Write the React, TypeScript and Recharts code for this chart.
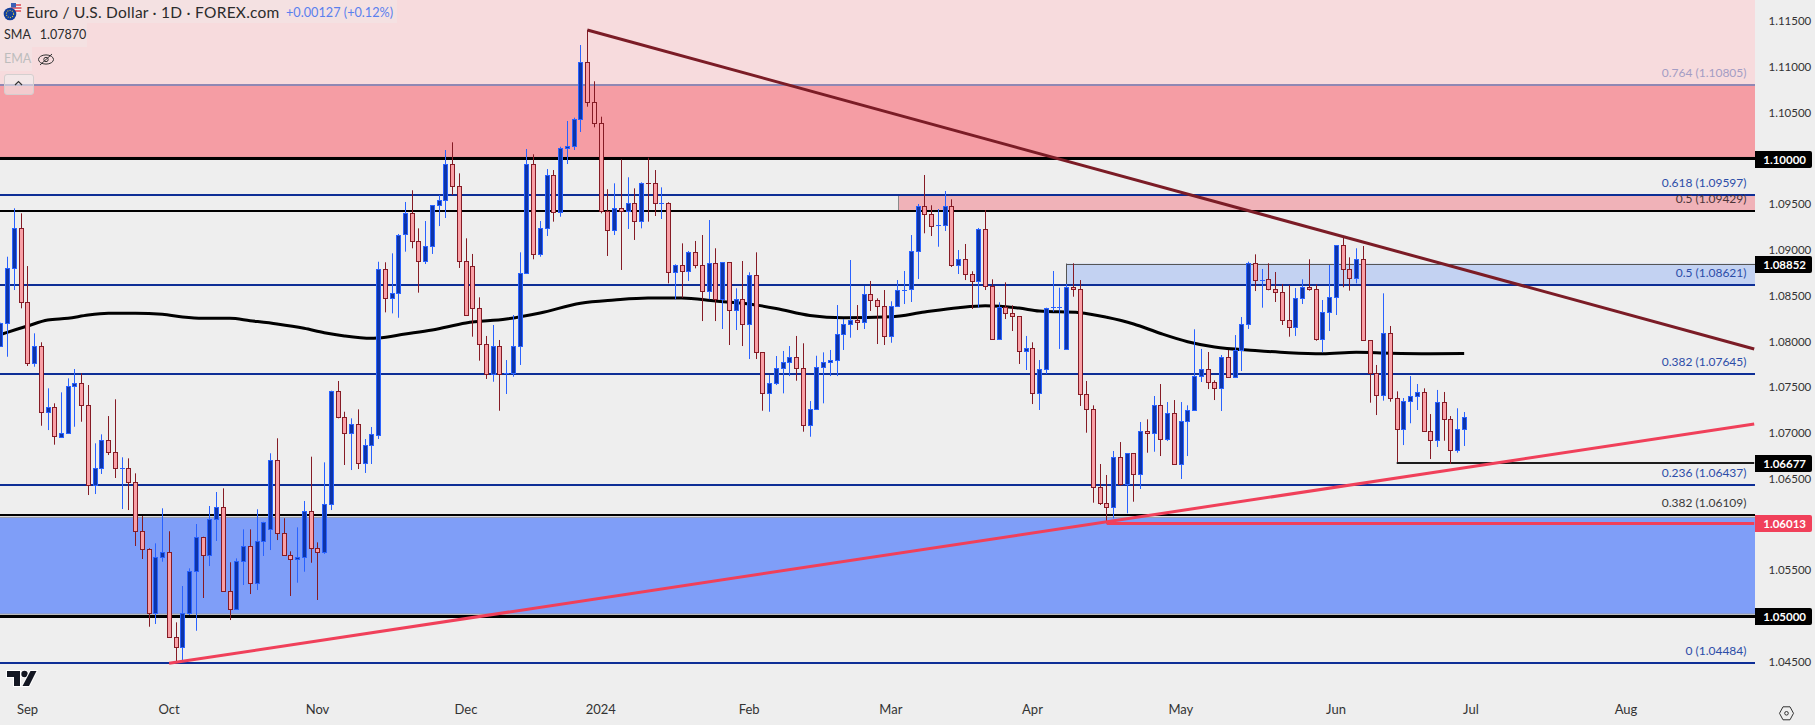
import { ComposedChart, Bar, Line, XAxis, YAxis, ReferenceLine, ReferenceArea } from "recharts";

const FONT = "Lato, 'Noto Sans', sans-serif";
const BAND = 6.745;

const sessionMonths: [string, number[]][] = [
  ["2023-08", [28, 29, 30, 31]],
  ["2023-09", [1, 4, 5, 6, 7, 8, 11, 12, 13, 14, 15, 18, 19, 20, 21, 22, 25, 26, 27, 28, 29]],
  ["2023-10", [2, 3, 4, 5, 6, 9, 10, 11, 12, 13, 16, 17, 18, 19, 20, 23, 24, 25, 26, 27, 30, 31]],
  ["2023-11", [1, 2, 3, 6, 7, 8, 9, 10, 13, 14, 15, 16, 17, 20, 21, 22, 23, 24, 27, 28, 29, 30]],
  ["2023-12", [1, 4, 5, 6, 7, 8, 11, 12, 13, 14, 15, 18, 19, 20, 21, 22, 26, 27, 28, 29]],
  ["2024-01", [2, 3, 4, 5, 8, 9, 10, 11, 12, 15, 16, 17, 18, 19, 22, 23, 24, 25, 26, 29, 30, 31]],
  ["2024-02", [1, 2, 5, 6, 7, 8, 9, 12, 13, 14, 15, 16, 19, 20, 21, 22, 23, 26, 27, 28, 29]],
  ["2024-03", [1, 4, 5, 6, 7, 8, 11, 12, 13, 14, 15, 18, 19, 20, 21, 22, 25, 26, 27, 28, 29]],
  ["2024-04", [1, 2, 3, 4, 5, 8, 9, 10, 11, 12, 15, 16, 17, 18, 19, 22, 23, 24, 25, 26, 29, 30]],
  ["2024-05", [1, 2, 3, 6, 7, 8, 9, 10, 13, 14, 15, 16, 17, 20, 21, 22, 23, 24, 27, 28, 29, 30, 31]],
  ["2024-06", [3, 4, 5, 6, 7, 10, 11, 12, 13, 14, 17, 18, 19, 20, 21, 24, 25, 26, 27, 28]],
  ["2024-07", [1, 2, 3, 4, 5, 8, 9, 10, 11, 12, 15, 16, 17, 18, 19, 22, 23, 24, 25, 26, 29, 30, 31]],
  ["2024-08", [1, 2, 5, 6, 7, 8, 9, 12, 13, 14, 15, 16, 19, 20, 21, 22, 23, 26, 27, 28]],
];

const monthTicks = ["2023-09-01", "2023-10-02", "2023-11-01", "2023-12-01", "2024-01-02", "2024-02-01", "2024-03-01", "2024-04-01", "2024-05-01", "2024-06-03", "2024-07-01", "2024-08-01"];
const monthLabels = ["Sep", "Oct", "Nov", "Dec", "2024", "Feb", "Mar", "Apr", "May", "Jun", "Jul", "Aug"];
const priceTicks = [1.115, 1.11, 1.105, 1.095, 1.09, 1.085, 1.08, 1.075, 1.07, 1.065, 1.055, 1.045];

const opens = [
  1.07955, 1.08199, 1.088, 1.09237, 1.08435, 1.07762, 1.07955, 1.07227, 1.07281, 1.0696,
  1.06997, 1.07511, 1.07544, 1.07303, 1.06429, 1.06615, 1.06921, 1.06796, 1.06615, 1.06615,
  1.06462, 1.05933, 1.0573, 1.05031, 1.05649, 1.05704, 1.04775, 1.04666, 1.05037, 1.05496,
  1.05867, 1.05671, 1.06058, 1.06195, 1.05277, 1.05081, 1.05605, 1.05769, 1.05365, 1.05824,
  1.05948, 1.06702, 1.05905, 1.05664, 1.05627, 1.05649, 1.06152, 1.05747, 1.05704, 1.06222,
  1.07463, 1.07179, 1.07004, 1.07096, 1.06676, 1.06866, 1.06982, 1.08789, 1.08479, 1.08527,
  1.09172, 1.09401, 1.09102, 1.08883, 1.09047, 1.09489, 1.09543, 1.09937, 1.09696, 1.08883,
  1.08829, 1.08363, 1.0797, 1.07642, 1.07948, 1.07653, 1.07653, 1.07948, 1.08746, 1.09937,
  1.08953, 1.09237, 1.09816, 1.09412, 1.10112, 1.10133, 1.10428, 1.11051, 1.10614, 1.10385,
  1.09423, 1.09216, 1.09456, 1.09423, 1.09511, 1.09314, 1.09729, 1.09729, 1.09511, 1.09511,
  1.08757, 1.08833, 1.08768, 1.08975, 1.08833, 1.08549, 1.08855, 1.08462, 1.08866, 1.08341,
  1.08462, 1.08188, 1.08724, 1.07882, 1.07434, 1.07544, 1.07714, 1.07773, 1.07834, 1.07714,
  1.07085, 1.07266, 1.07725, 1.07773, 1.07795, 1.08079, 1.08188, 1.08232, 1.0821, 1.08516,
  1.08451, 1.08385, 1.08057, 1.08385, 1.08566, 1.08571, 1.08986, 1.09478, 1.0939, 1.0927,
  1.0927, 1.09478, 1.08833, 1.08899, 1.08735, 1.08658, 1.09226, 1.08604, 1.08024, 1.08374,
  1.08309, 1.08276, 1.07893, 1.07926, 1.07434, 1.07697, 1.08374, 1.08374, 1.07915, 1.08593,
  1.08571, 1.07423, 1.07259, 1.06414, 1.06239, 1.06189, 1.06735, 1.0644, 1.06779, 1.06549,
  1.07019, 1.06997, 1.07303, 1.06932, 1.07216, 1.06659, 1.07128, 1.07249, 1.0762, 1.07697,
  1.07555, 1.07489, 1.07828, 1.07609, 1.07904, 1.08188, 1.08855, 1.08672, 1.0868, 1.08571,
  1.08538, 1.08232, 1.08156, 1.08472, 1.08593, 1.08571, 1.08024, 1.08319, 1.08483, 1.09052,
  1.08789, 1.08691, 1.08899, 1.08014, 1.07653, 1.07413, 1.0809, 1.0738, 1.07041, 1.07347,
  1.07402, 1.07445, 1.07019, 1.06921, 1.07336, 1.0715, 1.06812, 1.07041,
];

const closes = [
  1.08206, 1.088, 1.09237, 1.08435, 1.07762, 1.07955, 1.07227, 1.07281, 1.06965, 1.06997,
  1.07511, 1.07544, 1.07303, 1.06429, 1.06615, 1.06921, 1.06796, 1.06615, 1.06615, 1.06462,
  1.05933, 1.0573, 1.05031, 1.05649, 1.05704, 1.04775, 1.04666, 1.05037, 1.05496, 1.05867,
  1.05671, 1.06058, 1.06195, 1.05277, 1.05081, 1.05605, 1.05769, 1.05365, 1.05824, 1.06031,
  1.06702, 1.05905, 1.05664, 1.05627, 1.05649, 1.06152, 1.05747, 1.05704, 1.06222, 1.07463,
  1.07179, 1.07004, 1.07096, 1.06676, 1.06866, 1.06986, 1.08789, 1.08479, 1.08527, 1.09161,
  1.09401, 1.09102, 1.08883, 1.09047, 1.09489, 1.09543, 1.09937, 1.09696, 1.08883, 1.08287,
  1.08363, 1.0797, 1.07642, 1.07948, 1.07642, 1.07653, 1.07948, 1.08746, 1.09937, 1.08953,
  1.09237, 1.09816, 1.09412, 1.10112, 1.10133, 1.10428, 1.11051, 1.10614, 1.10385, 1.09423,
  1.09216, 1.09456, 1.09423, 1.09511, 1.09314, 1.09729, 1.09728, 1.09511, 1.09511, 1.08757,
  1.08833, 1.08768, 1.08975, 1.08833, 1.08549, 1.08855, 1.08462, 1.08866, 1.08341, 1.08462,
  1.08188, 1.08724, 1.07882, 1.07434, 1.07544, 1.07714, 1.07773, 1.07834, 1.07714, 1.07085,
  1.07266, 1.07725, 1.07773, 1.07795, 1.08079, 1.08188, 1.08232, 1.0821, 1.08516, 1.08451,
  1.08385, 1.08057, 1.08385, 1.0856, 1.08566, 1.08986, 1.09478, 1.0939, 1.09259, 1.0927,
  1.09478, 1.08833, 1.08899, 1.08735, 1.08658, 1.09226, 1.08604, 1.08024, 1.08374, 1.08309,
  1.08276, 1.07893, 1.07926, 1.07434, 1.07697, 1.08363, 1.08374, 1.08374, 1.08593, 1.08571,
  1.07423, 1.07259, 1.06414, 1.06239, 1.06189, 1.06735, 1.0644, 1.06779, 1.06549, 1.07019,
  1.06997, 1.07303, 1.06932, 1.07216, 1.06659, 1.07128, 1.07249, 1.0762, 1.07697, 1.07555,
  1.07489, 1.07828, 1.07609, 1.07904, 1.08188, 1.08855, 1.08669, 1.08672, 1.08571, 1.08538,
  1.08232, 1.08156, 1.08472, 1.08593, 1.08571, 1.08024, 1.08319, 1.08483, 1.09052, 1.08789,
  1.08691, 1.08899, 1.08014, 1.07653, 1.07413, 1.0809, 1.0738, 1.07041, 1.07347, 1.07402,
  1.07445, 1.07019, 1.06921, 1.07336, 1.0715, 1.06812, 1.07041, 1.07172,
];

const highs = [
  1.08206, 1.08927, 1.09456, 1.09401, 1.08825, 1.0809, 1.07992, 1.07489, 1.07325, 1.07445,
  1.07598, 1.077, 1.07653, 1.07525, 1.06888, 1.06986, 1.07186, 1.07369, 1.06735, 1.06724,
  1.0656, 1.06094, 1.05741, 1.05795, 1.06178, 1.05927, 1.04932, 1.05329, 1.05522, 1.06006,
  1.05867, 1.06203, 1.06356, 1.06396, 1.05588, 1.05631, 1.05948, 1.05948, 1.06167, 1.06031,
  1.06779, 1.06943, 1.06069, 1.05708, 1.0597, 1.06258, 1.06742, 1.05806, 1.0668, 1.07463,
  1.07569, 1.07233, 1.07161, 1.07259, 1.06935, 1.07066, 1.08872, 1.08866, 1.08964, 1.09175,
  1.09525, 1.09653, 1.09237, 1.09317, 1.09489, 1.09601, 1.10093, 1.10177, 1.09838, 1.09128,
  1.08957, 1.08483, 1.08061, 1.08181, 1.08017, 1.07798, 1.0829, 1.08975, 1.10104, 1.10046,
  1.09317, 1.09885, 1.09874, 1.10129, 1.1041, 1.10446, 1.1124, 1.11404, 1.10844, 1.10457,
  1.09664, 1.09729, 1.09991, 1.09795, 1.09674, 1.0974, 1.10009, 1.09874, 1.09685, 1.09522,
  1.08844, 1.09073, 1.08989, 1.09099, 1.09164, 1.09328, 1.09019, 1.08866, 1.08866, 1.08582,
  1.0888, 1.08757, 1.08975, 1.07882, 1.07634, 1.07842, 1.07897, 1.07951, 1.08061, 1.07981,
  1.0735, 1.07845, 1.07882, 1.07908, 1.08399, 1.08246, 1.08891, 1.08399, 1.08607, 1.08662,
  1.08472, 1.08563, 1.0844, 1.08672, 1.08771, 1.09164, 1.09503, 1.0982, 1.09489, 1.09448,
  1.09645, 1.09554, 1.09, 1.09066, 1.08768, 1.09241, 1.09437, 1.0868, 1.08429, 1.08647,
  1.08396, 1.08276, 1.08061, 1.07992, 1.07798, 1.0837, 1.08771, 1.08588, 1.08629, 1.08855,
  1.08672, 1.07569, 1.07303, 1.06662, 1.06542, 1.06804, 1.06902, 1.06779, 1.06779, 1.07121,
  1.0715, 1.07405, 1.07536, 1.07339, 1.07361, 1.07339, 1.07303, 1.08134, 1.07919, 1.07886,
  1.07576, 1.07853, 1.07908, 1.08071, 1.08268, 1.08872, 1.08953, 1.08793, 1.08855, 1.0876,
  1.08629, 1.08618, 1.08585, 1.0868, 1.08899, 1.08625, 1.08454, 1.08836, 1.09052, 1.09146,
  1.0892, 1.09019, 1.09044, 1.08014, 1.07744, 1.08527, 1.0817, 1.07456, 1.07383, 1.07623,
  1.07536, 1.07489, 1.07208, 1.07471, 1.07449, 1.07186, 1.07271, 1.0723,
];

const lows = [
  1.07955, 1.07834, 1.08563, 1.08363, 1.07733, 1.07725, 1.0708, 1.07033, 1.06873, 1.06949,
  1.06997, 1.07069, 1.07124, 1.06323, 1.06334, 1.06553, 1.0676, 1.06509, 1.0617, 1.06159,
  1.05766, 1.05624, 1.04884, 1.04914, 1.05594, 1.04775, 1.04484, 1.0452, 1.05012, 1.0484,
  1.05198, 1.05547, 1.05821, 1.05267, 1.04957, 1.05081, 1.0534, 1.05241, 1.05285, 1.05657,
  1.05722, 1.05831, 1.05664, 1.0522, 1.05365, 1.05485, 1.05583, 1.05176, 1.05679, 1.06159,
  1.07161, 1.06651, 1.06596, 1.06607, 1.06564, 1.06662, 1.06935, 1.08319, 1.08308, 1.0826,
  1.08982, 1.09019, 1.08534, 1.08847, 1.08957, 1.09262, 1.0935, 1.09601, 1.08804, 1.08287,
  1.08053, 1.07791, 1.07591, 1.07561, 1.07244, 1.07427, 1.07616, 1.07744, 1.08746, 1.08899,
  1.08927, 1.09153, 1.0931, 1.09364, 1.0994, 1.10093, 1.1029, 1.10566, 1.10341, 1.09401,
  1.08935, 1.09164, 1.08782, 1.0923, 1.0911, 1.09237, 1.0931, 1.09372, 1.09339, 1.08636,
  1.08462, 1.08479, 1.08662, 1.088, 1.08224, 1.08462, 1.08224, 1.08137, 1.07962, 1.08126,
  1.07951, 1.07809, 1.07809, 1.07244, 1.07233, 1.07525, 1.07434, 1.07623, 1.07572, 1.07015,
  1.0696, 1.07252, 1.07325, 1.07623, 1.07623, 1.07908, 1.08042, 1.08126, 1.08137, 1.08334,
  1.07973, 1.07962, 1.07987, 1.08385, 1.0841, 1.08432, 1.08683, 1.09183, 1.09153, 1.09036,
  1.09208, 1.08815, 1.08738, 1.08672, 1.08356, 1.0837, 1.08563, 1.08024, 1.08024, 1.08246,
  1.08115, 1.07755, 1.07689, 1.07317, 1.07252, 1.07645, 1.08326, 1.07919, 1.07915, 1.0849,
  1.07296, 1.07004, 1.06239, 1.06214, 1.06014, 1.06069, 1.06425, 1.06123, 1.0625, 1.06389,
  1.06785, 1.06796, 1.06749, 1.06913, 1.06659, 1.06498, 1.06749, 1.07249, 1.07558, 1.07481,
  1.07361, 1.07241, 1.07609, 1.07609, 1.07678, 1.08137, 1.08552, 1.0837, 1.0856, 1.08432,
  1.08181, 1.08053, 1.08061, 1.0841, 1.08556, 1.08009, 1.07882, 1.08115, 1.0829, 1.08593,
  1.08556, 1.08636, 1.08014, 1.07332, 1.07197, 1.07354, 1.07343, 1.06684, 1.06869, 1.07107,
  1.07252, 1.07019, 1.06716, 1.06848, 1.06916, 1.06662, 1.06785, 1.06859,
];

const smaSessions = [0, 1, 4, 7, 10, 13, 16, 20, 24, 27, 30, 34, 37, 41, 45, 48, 51, 55, 56, 60, 64, 69, 75, 80, 86, 91, 96, 101, 106, 111, 115, 120, 125, 132, 137, 142, 146, 151, 154, 160, 164, 168, 172, 176, 180, 186, 191, 196, 201, 206, 212, 217];
const smaValues = [1.08077, 1.08101, 1.0817, 1.08235, 1.08254, 1.0829, 1.08308, 1.08308, 1.08298, 1.08268, 1.08254, 1.08254, 1.08228, 1.08192, 1.08145, 1.08097, 1.08061, 1.08035, 1.08039, 1.08082, 1.08126, 1.08203, 1.08246, 1.08312, 1.08418, 1.08454, 1.08476, 1.08476, 1.08443, 1.0841, 1.08361, 1.08285, 1.0826, 1.0827, 1.08323, 1.0837, 1.08392, 1.08366, 1.08334, 1.08315, 1.08265, 1.08192, 1.08088, 1.07998, 1.0794, 1.07902, 1.07878, 1.07867, 1.07882, 1.07872, 1.07867, 1.0787];

const fibPrices = [1.10805, 1.09597, 1.09429, 1.08621, 1.07645, 1.06437, 1.06109, 1.04484];
const fibLabels = ["0.764 (1.10805)", "0.618 (1.09597)", "0.5 (1.09429)", "0.5 (1.08621)", "0.382 (1.07645)", "0.236 (1.06437)", "0.382 (1.06109)", "0 (1.04484)"];
const fibColors = ["#8f88b4", "#0d2e96", "#000000", "#0d2e96", "#0d2e96", "#0d2e96", "#000000", "#0d2e96"];
const fibTextColors = ["#a49dc4", "#2c4da8", "#4a3438", "#2c4da8", "#2c4da8", "#2c4da8", "#3a3a3a", "#2c4da8"];

const dates = sessionMonths.flatMap(([month, days]) => days.map((d) => `${month}-${String(d).padStart(2, "0")}`));

const rows = dates.map((date, i) => {
  const smaAt = smaSessions.indexOf(i);
  return {
    date,
    open: opens[i],
    close: closes[i],
    high: highs[i],
    low: lows[i],
    range: highs[i] === undefined ? null : [lows[i], highs[i]],
    sma: smaAt >= 0 ? smaValues[smaAt] : null,
  };
});

function Candle(props: any) {
  const { x, width, y, height, payload } = props;
  if (!payload || payload.high === undefined || !height) return null;
  const perPrice = height / (payload.high - payload.low);
  const up = payload.close >= payload.open;
  const cx = Math.round(x + width / 2) + 0.5;
  const top = Math.round(y + (payload.high - Math.max(payload.open, payload.close)) * perPrice) + 0.5;
  const bottom = Math.round(y + (payload.high - Math.min(payload.open, payload.close)) * perPrice) + 0.5;
  const edge = up ? "#2962ff" : "#851b25";
  const fill = up ? "#0d34a8" : "#f9a0a6";
  return (
    <g>
      <line x1={cx} x2={cx} y1={y} y2={y + height} stroke={edge} strokeWidth={1} />
      {bottom - top < 1 ? (
        <line x1={cx - 2.5} x2={cx + 2.5} y1={top} y2={top} stroke={edge} strokeWidth={1} />
      ) : (
        <rect x={cx - 2} y={top} width={4} height={bottom - top} fill={fill} stroke={edge} strokeWidth={1} />
      )}
    </g>
  );
}

// zones drawn on the chart start at a candle's centre, not at its band edge
function Zone(props: any) {
  const { x, y, width, height, fill, stroke, clipPath, topEdge } = props;
  const left = Math.round(x + BAND / 2) + 0.5;
  const right = x + width;
  const yTop = Math.round(y) + 0.5;
  const yBottom = y + height;
  return (
    <g clipPath={clipPath}>
      <rect x={left} y={y} width={right - left} height={height} fill={fill} />
      <line x1={left} x2={left} y1={y} y2={yBottom} stroke={stroke} strokeWidth={1} />
      {topEdge && <line x1={left} x2={right} y1={yTop} y2={yTop} stroke={stroke} strokeWidth={1} />}
    </g>
  );
}

// level lines snap to whole pixels so they stay as dark as the original
function Level(props: any) {
  const { x1, x2, y1, stroke, strokeWidth } = props;
  const y = strokeWidth % 2 ? Math.floor(y1) + 0.5 : Math.round(y1);
  return <line x1={x1} x2={x2} y1={y} y2={y} stroke={stroke} strokeWidth={strokeWidth} />;
}

const fibLabel = (text: string, color: string) => (props: any) => {
  const box = props.viewBox;
  return (
    <text x={1746.5} y={box.y - 12.5} textAnchor="end" dominantBaseline="central" fill={color} fontFamily={FONT} fontSize={12}>
      {text}
    </text>
  );
};

const badge = (text: string, fill: string) => (props: any) => {
  const box = props.viewBox;
  const top = Math.round(box.y) - 8;
  return (
    <g>
      <path d={`M1755 ${top}h55a2 2 0 0 1 2 2v13a2 2 0 0 1 -2 2h-55z`} fill={fill} />
      <text x={1806} y={top + 8.5} textAnchor="end" dominantBaseline="central" fill="#fff" fontFamily={FONT} fontWeight={700} fontSize={11.5}>
        {text}
      </text>
    </g>
  );
};

function Overlay() {
  return (
    <>
      <div style={{ position: "absolute", left: 0, top: 0, width: 397, height: 23, background: "rgba(240,240,240,0.3)" }} />
      <div style={{ position: "absolute", left: 0, top: 23, width: 87, height: 24, background: "rgba(240,240,240,0.3)" }} />
      <div style={{ position: "absolute", left: 0, top: 47, width: 32, height: 24, background: "rgba(240,240,240,0.3)" }} />
      <div style={{ position: "absolute", left: 26, top: 3, fontFamily: FONT, fontSize: 15.5, letterSpacing: 0.25, color: "#2b2b2b", whiteSpace: "nowrap", lineHeight: "18px" }}>
        Euro / U.S. Dollar · 1D · FOREX.com
      </div>
      <div style={{ position: "absolute", left: 286, top: 3, fontFamily: FONT, fontSize: 12.7, color: "#5a80ee", whiteSpace: "nowrap", lineHeight: "18px" }}>
        +0.00127 (+0.12%)
      </div>
      <div style={{ position: "absolute", left: 4, top: 27, fontFamily: FONT, fontSize: 12.5, color: "#2b2b2b", lineHeight: "16px", whiteSpace: "nowrap" }}>
        SMA<span style={{ marginLeft: 9 }}>1.07870</span>
      </div>
      <div style={{ position: "absolute", left: 4, top: 51, fontFamily: FONT, fontSize: 12.5, color: "#bdbdbd", lineHeight: "16px" }}>EMA</div>
      <div style={{ position: "absolute", left: 4, top: 74, width: 28, height: 19, border: "1px solid #d4cfcf", borderRadius: 3, background: "rgba(240,240,240,0.55)" }} />
      <svg width={1815} height={725} style={{ position: "absolute", left: 0, top: 0, pointerEvents: "none" }}>
        {/* symbol flags */}
        <circle cx={16} cy={8} r={5.8} fill="#f3f3f3" />
        <path d="M11 5h10M10.5 8h11M11 11h10" stroke="#e04550" strokeWidth={1.4} />
        <rect x={11} y={3} width={5} height={4.5} fill="#3c5fb5" />
        <circle cx={10} cy={14} r={6.3} fill="#123f9c" />
        <circle cx={10} cy={14} r={3.6} fill="none" stroke="#e8c92e" strokeWidth={1.1} strokeDasharray="1 1.3" />
        {/* chevron and hidden eye */}
        <path d="M15 85l3.5-3.5 3.5 3.5" fill="none" stroke="#333" strokeWidth={1.2} />
        <ellipse cx={46} cy={59.5} rx={7.5} ry={4.6} fill="none" stroke="#333" strokeWidth={1} />
        <circle cx={46} cy={59.5} r={2.2} fill="none" stroke="#333" strokeWidth={1} />
        <path d="M40 65l12-11" stroke="#333" strokeWidth={1} />
        {/* TradingView mark */}
        <g stroke="#fff" strokeWidth={2} paintOrder="stroke">
          <path d="M7 671h13v15h-6v-9H7z" fill="#131722" />
          <circle cx={24.5} cy={674} r={3.2} fill="#131722" />
          <path d="M30.5 671h6l-7.5 15h-6.5z" fill="#131722" />
        </g>
        {/* settings gear */}
        <path d="M1779.5 713.3l3.5-6.5h7l3.5 6.5-3.5 6.5h-7z" fill="none" stroke="#333" strokeWidth={1} />
        <circle cx={1786.5} cy={713.3} r={1.8} fill="none" stroke="#333" strokeWidth={1} />
      </svg>
    </>
  );
}

export default function App() {
  return (
    <div style={{ position: "absolute", left: 0, top: 0, width: 1815, height: 725, background: "#eeeeee", overflow: "hidden" }}>
      <ComposedChart width={1815} height={725} data={rows} margin={{ top: 0, right: 0, bottom: 0, left: 0 }}>
        <XAxis
          dataKey="date"
          ticks={monthTicks}
          interval={0}
          height={30}
          padding={{ left: -2.87, right: -2.58 }}
          axisLine={false}
          tickLine={false}
          tickMargin={4}
          tick={{ fill: "#333", fontSize: 13, fontFamily: FONT }}
          tickFormatter={(d: string) => monthLabels[monthTicks.indexOf(d)]}
        />
        <YAxis
          orientation="right"
          width={60}
          type="number"
          domain={[1.04138, 1.11732]}
          allowDataOverflow
          ticks={priceTicks}
          interval={0}
          axisLine={false}
          tickLine={false}
          tickMargin={7.5}
          tick={{ fill: "#333", fontSize: 11.5, fontFamily: FONT }}
          tickFormatter={(v: number) => v.toFixed(5)}
        />

        <ReferenceArea y1={1.11732} y2={1.10805} fill="#f7dbdd" fillOpacity={1} stroke="none" ifOverflow="hidden" zIndex={100} />
        <ReferenceArea y1={1.10805} y2={1.10012} fill="#f59da4" fillOpacity={1} stroke="#8a7070" ifOverflow="hidden" zIndex={100} />
        <ReferenceArea y1={1.0608} y2={1.05022} fill="#7f9ef8" fillOpacity={1} stroke="#9a9a9a" ifOverflow="hidden" zIndex={100} />
        <ReferenceArea x1="2024-03-04" y1={1.09597} y2={1.09429} fill="#f0b2b8" stroke="#8a8a8a" ifOverflow="hidden" shape={<Zone />} zIndex={100} />
        <ReferenceArea x1="2024-04-08" y1={1.08852} y2={1.08621} fill="#c3d2f2" stroke="#555" ifOverflow="hidden" shape={<Zone topEdge />} zIndex={100} />

        {fibPrices.map((price, i) => (
          <ReferenceLine
            key={price}
            y={price}
            stroke={fibColors[i]}
            strokeWidth={2}
            ifOverflow="visible"
            shape={<Level />}
            zIndex={200}
            label={fibLabel(fibLabels[i], fibTextColors[i])}
          />
        ))}
        <ReferenceLine y={1.1} stroke="#000" strokeWidth={3} ifOverflow="visible" shape={<Level />} zIndex={200} label={badge("1.10000", "#000")} />
        <ReferenceLine y={1.05} stroke="#000" strokeWidth={3} ifOverflow="visible" shape={<Level />} zIndex={200} label={badge("1.05000", "#000")} />
        <ReferenceLine y={1.08852} stroke="none" ifOverflow="visible" zIndex={200} label={badge("1.08852", "#000")} />
        <ReferenceLine
          segment={[{ x: "2024-06-14", y: 1.06677 }, { x: "2024-08-28", y: 1.06677 }]}
          stroke="#1c1c1c"
          strokeWidth={2}
          ifOverflow="visible"
          shape={<Level />}
          zIndex={200}
          label={badge("1.06677", "#000")}
        />
        <ReferenceLine
          segment={[{ x: "2024-04-16", y: 1.06013 }, { x: "2024-08-28", y: 1.06013 }]}
          stroke="#f0405a"
          strokeWidth={3}
          ifOverflow="visible"
          shape={<Level />}
          zIndex={200}
          label={badge("1.06013", "#f0405a")}
        />

        <Line dataKey="sma" connectNulls type="monotone" stroke="#000" strokeWidth={3} dot={false} isAnimationActive={false} zIndex={250} />
        <Bar dataKey="range" shape={<Candle />} isAnimationActive={false} zIndex={300} />

        <ReferenceLine
          segment={[{ x: "2023-12-28", y: 1.11404 }, { x: "2024-08-28", y: 1.07919 }]}
          stroke="#7b1c26"
          strokeWidth={3}
          ifOverflow="visible"
          zIndex={500}
        />
        <ReferenceLine
          segment={[{ x: "2023-10-02", y: 1.04484 }, { x: "2024-08-28", y: 1.07099 }]}
          stroke="#f0405a"
          strokeWidth={3}
          ifOverflow="visible"
          zIndex={500}
        />
      </ComposedChart>
      <Overlay />
    </div>
  );
}
